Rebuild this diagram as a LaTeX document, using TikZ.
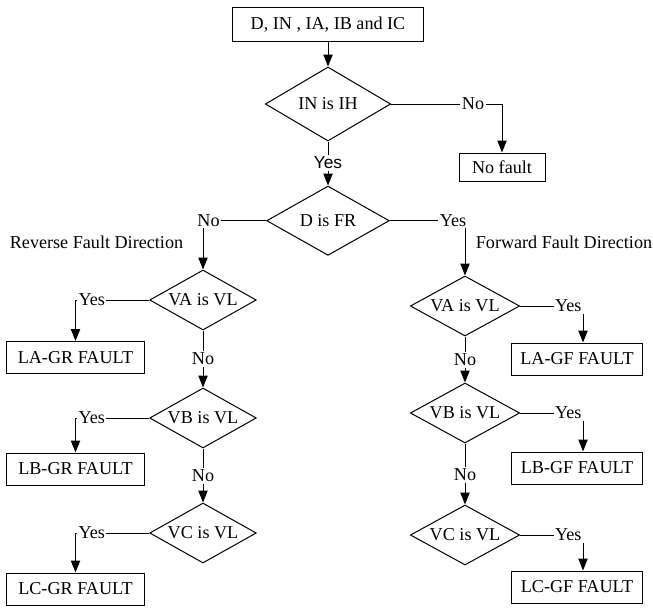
\documentclass[tikz,border=0pt]{standalone}
\usepackage{fontspec}
\setmainfont{Liberation Serif}
\newfontfamily\arialfont{Liberation Sans}
\usetikzlibrary{shapes.geometric,arrows.meta}

\tikzset{every picture/.style={line width=0.75pt}}
\tikzset{
  procbox/.style={draw, rectangle, inner sep=0pt},
  decision/.style={draw, diamond, aspect=2, inner sep=0pt},
  lbl/.style={inner sep=0.75pt},
  flow/.style={-{Triangle[length=9pt,width=7pt]}}
}

\begin{document}
\begin{tikzpicture}[x=0.75pt,y=0.75pt,yscale=-1,xscale=1,font=\fontsize{13.6}{16}\selectfont]
\path[use as bounding box] (0,0) rectangle (653,608);

%Shape: Rectangle [id:input]
\node[procbox, minimum width=143pt, minimum height=26pt] (input) at (328,24.5) {D, IN , IA, IB and IC};
%Shape: Diamond [id:inih]
\node[decision, minimum width=94pt, minimum height=55.5pt] (inih) at (328,104) {IN is IH};
%Shape: Rectangle [id:nofault]
\node[procbox, minimum width=64.5pt, minimum height=21pt] (nofault) at (502,167) {No fault};
%Shape: Diamond [id:dfr]
\node[decision, minimum width=92pt, minimum height=52pt] (dfr) at (328,220.7) {D is FR};

% Text Node
\node[lbl] (noih) at (473,104) {No};
% Text Node
\node[lbl, font=\arialfont\fontsize{13}{15}\selectfont] (yesih) at (328,163) {Yes};
% Text Node
\node[lbl] (nofr) at (208.5,220.7) {No};
% Text Node
\node[lbl] (yesfr) at (453,220.7) {Yes};
% Text Node
\node[lbl] (revtxt) at (96.5,242) {Reverse Fault Direction};
% Text Node
\node[lbl] (fwdtxt) at (564,242) {Forward Fault Direction};

%Shape: Diamond [id:vra]
\node[decision, minimum width=80pt, minimum height=45pt] (vra) at (203,300) {VA is VL};
%Shape: Diamond [id:vrb]
\node[decision, minimum width=80pt, minimum height=45pt] (vrb) at (203,418) {VB is VL};
%Shape: Diamond [id:vrc]
\node[decision, minimum width=80pt, minimum height=45pt] (vrc) at (203,533) {VC is VL};
%Shape: Rectangle [id:lagr]
\node[procbox, minimum width=103pt, minimum height=24pt] (lagr) at (75.5,357.5) {LA-GR FAULT};
%Shape: Rectangle [id:lbgr]
\node[procbox, minimum width=103pt, minimum height=24pt] (lbgr) at (75.5,469) {LB-GR FAULT};
%Shape: Rectangle [id:lcgr]
\node[procbox, minimum width=103pt, minimum height=24pt] (lcgr) at (75.5,589) {LC-GR FAULT};

% Text Node
\node[lbl, anchor=west] (yesra) at (77,300) {Yes};
% Text Node
\node[lbl, anchor=west] (yesrb) at (77,418) {Yes};
% Text Node
\node[lbl, anchor=west] (yesrc) at (77,533) {Yes};
% Text Node
\node[lbl] (nora) at (203,359) {No};
% Text Node
\node[lbl] (norb) at (203,476) {No};

%Shape: Diamond [id:vfa]
\node[decision, minimum width=82pt, minimum height=45pt] (vfa) at (465,306) {VA is VL};
%Shape: Diamond [id:vfb]
\node[decision, minimum width=82pt, minimum height=45pt] (vfb) at (465,413) {VB is VL};
%Shape: Diamond [id:vfc]
\node[decision, minimum width=82pt, minimum height=45pt] (vfc) at (465,535) {VC is VL};
%Shape: Rectangle [id:lagf]
\node[procbox, minimum width=98pt, minimum height=24pt] (lagf) at (577,359) {LA-GF FAULT};
%Shape: Rectangle [id:lbgf]
\node[procbox, minimum width=98pt, minimum height=24pt] (lbgf) at (577,468) {LB-GF FAULT};
%Shape: Rectangle [id:lcgf]
\node[procbox, minimum width=98pt, minimum height=24pt] (lcgf) at (577,587) {LC-GF FAULT};

% Text Node
\node[lbl, anchor=east] (yesfa) at (583,306) {Yes};
% Text Node
\node[lbl, anchor=east] (yesfb) at (583,413) {Yes};
% Text Node
\node[lbl, anchor=east] (yesfc) at (583,535) {Yes};
% Text Node
\node[lbl] (nofa) at (465,360) {No};
% Text Node
\node[lbl] (nofb) at (465,475) {No};

%Connectors: top
\draw[flow] (input) -- (inih);
\draw (inih.east) -- (noih.west);
\draw[flow] (noih.east) -| (nofault.north);
\draw (inih.south) -- (yesih.north);
\draw[flow] (yesih.south) -- (dfr.north);
\draw (dfr.west) -- (nofr.east);
\draw[flow] (vra.north |- nofr.south) -- (vra.north);
\draw (dfr.east) -- (yesfr.west);
\draw[flow] (vfa.north |- yesfr.south) -- (vfa.north);

%Connectors: reverse side
\draw (vra.west) -- (yesra.east);
\draw[flow] (yesra.west) -| (lagr.north);
\draw (vra.south) -- (nora.north);
\draw[flow] (nora.south) -- (vrb.north);
\draw (vrb.west) -- (yesrb.east);
\draw[flow] (yesrb.west) -| (lbgr.north);
\draw (vrb.south) -- (norb.north);
\draw[flow] (norb.south) -- (vrc.north);
\draw (vrc.west) -- (yesrc.east);
\draw[flow] (yesrc.west) -| (lcgr.north);

%Connectors: forward side
\draw (vfa.east) -- (yesfa.west);
\draw[flow] (yesfa.south east) -- (yesfa.south east |- lagf.north);
\draw (vfa.south) -- (nofa.north);
\draw[flow] (nofa.south) -- (vfb.north);
\draw (vfb.east) -- (yesfb.west);
\draw[flow] (yesfb.south east) -- (yesfb.south east |- lbgf.north);
\draw (vfb.south) -- (nofb.north);
\draw[flow] (nofb.south) -- (vfc.north);
\draw (vfc.east) -- (yesfc.west);
\draw[flow] (yesfc.south east) -- (yesfc.south east |- lcgf.north);
\end{tikzpicture}
\end{document}
